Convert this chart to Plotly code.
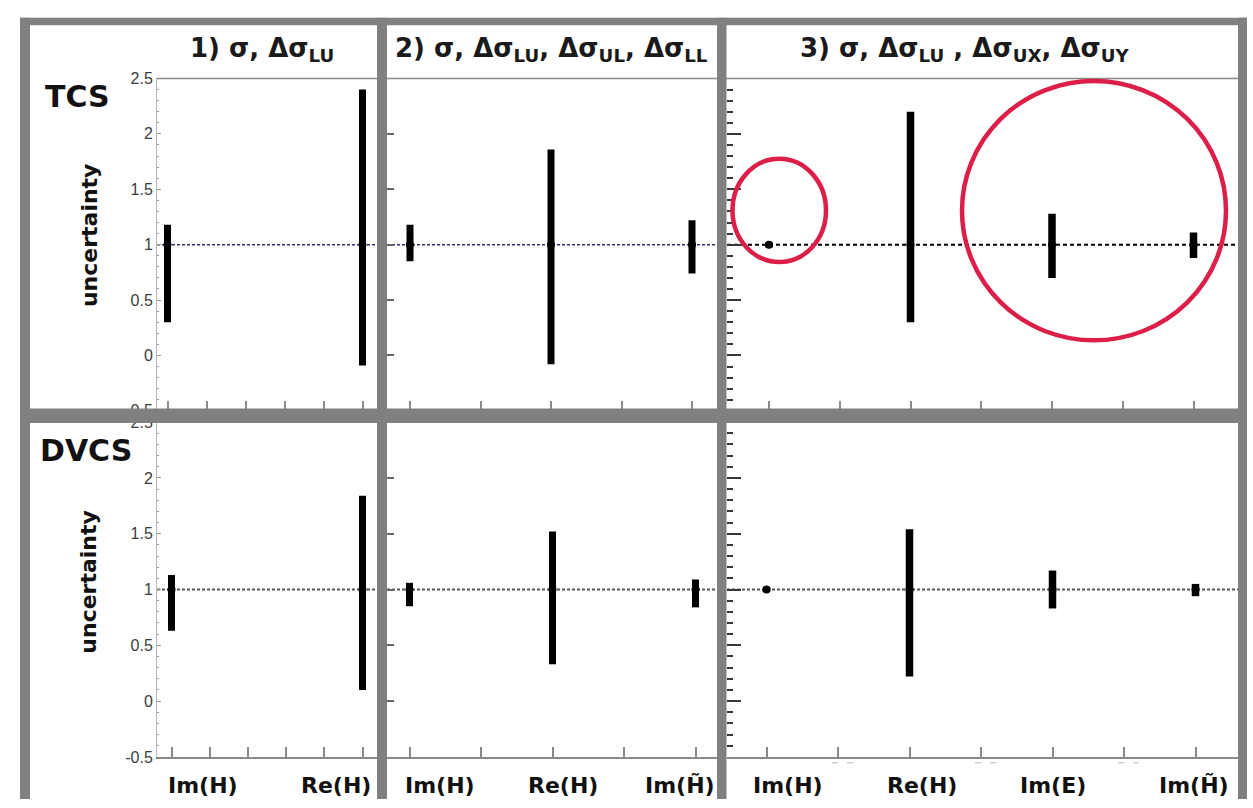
import plotly.graph_objects as go

W, H = 1253, 808

# ---------------- data ----------------
# fitted Compton form factors for each observable set
set1_labels = ["Im(H)", "Re(H)"]
set2_labels = ["Im(H)", "Re(H)", "Im(H̃)"]
set3_labels = ["Im(H)", "Re(H)", "Im(E)", "Im(H̃)"]

# TCS: lower / upper edge of the normalised uncertainty band
tcs1_low = [0.30, -0.09]
tcs1_high = [1.18, 2.40]
tcs2_low = [0.85, -0.08, 0.74]
tcs2_high = [1.18, 1.86, 1.22]
tcs3_low = [0.975, 0.30, 0.70, 0.88]
tcs3_high = [1.025, 2.20, 1.28, 1.11]

# DVCS: lower / upper edge of the normalised uncertainty band
dvcs1_low = [0.63, 0.10]
dvcs1_high = [1.13, 1.84]
dvcs2_low = [0.85, 0.33, 0.84]
dvcs2_high = [1.06, 1.52, 1.09]
dvcs3_low = [0.98, 0.22, 0.83, 0.94]
dvcs3_high = [1.02, 1.54, 1.17, 1.05]

central_value = 1.0
y_ticks = [-0.5, 0, 0.5, 1, 1.5, 2, 2.5]
y_tick_text = ["-0.5", "0", "0.5", "1", "1.5", "2", "2.5"]

panel_titles = [
    "<b>1) σ, Δσ<sub>LU</sub></b>",
    "<b>2) σ, Δσ<sub>LU</sub>, Δσ<sub>UL</sub>, Δσ<sub>LL</sub></b>",
    "<b>3) σ, Δσ<sub>LU</sub> , Δσ<sub>UX</sub>, Δσ<sub>UY</sub></b>",
]
row_names = ["TCS", "DVCS"]
y_title = "uncertainty"

# ---------------- layout geometry (pixels) ----------------
# left, right, top, bottom of each frame, pixel of first parameter, pixels per parameter, tick step
frames = [
    (157, 382, 72, 411.5, 167.5, 195.0, 0.2),
    (387, 717, 72, 411.5, 410.0, 141.0, 0.5),
    (727, 1238, 72, 411.5, 769.0, 141.5, 0.5),
    (157, 382, 423, 765, 171.5, 191.0, 0.2),
    (387, 717, 423, 765, 409.5, 143.0, 0.5),
    (727, 1238, 423, 765, 766.5, 143.0, 0.5),
]
bar_px = [7, 7, 7.5, 7, 7, 7.5]
label_nudge = [[0.165, -0.139], [0.21, 0.07, -0.11], [0.15, 0.09, 0.0, -0.01]]

panels = [
    (set1_labels, tcs1_low, tcs1_high),
    (set2_labels, tcs2_low, tcs2_high),
    (set3_labels, tcs3_low, tcs3_high),
    (set1_labels, dvcs1_low, dvcs1_high),
    (set2_labels, dvcs2_low, dvcs2_high),
    (set3_labels, dvcs3_low, dvcs3_high),
]


def px_x(p):
    return p / W


def px_y(p):
    return 1 - p / H


fig = go.Figure()
layout = dict(
    width=W, height=H, autosize=False,
    margin=dict(l=0, r=0, t=0, b=0, pad=0),
    paper_bgcolor="white", plot_bgcolor="white",
    showlegend=False,
)

shapes = []
annotations = []
tick_font = dict(family="Liberation Sans, Arial, sans-serif", size=16, color="#3c3c3c")
label_font = dict(family="DejaVu Sans, sans-serif", size=22, color="#111111")

for i, ((labels, low, high), fr) in enumerate(zip(panels, frames)):
    left, right, top, bottom, px0, ppu, step = fr
    n = i + 1
    sfx = "" if n == 1 else str(n)
    col = i % 3
    xs = list(range(len(labels)))

    fig.add_trace(go.Bar(
        x=xs, y=[h - l for l, h in zip(low, high)], base=low,
        width=bar_px[i] / ppu,
        marker=dict(color="black", line=dict(width=0)),
        xaxis=f"x{sfx}", yaxis=f"y{sfx}", hoverinfo="skip",
    ))
    fig.add_trace(go.Scatter(
        x=xs, y=[central_value] * len(xs), mode="markers",
        marker=dict(color="black", size=8),
        xaxis=f"x{sfx}", yaxis=f"y{sfx}", hoverinfo="skip",
    ))

    xa = dict(
        domain=[px_x(left), px_x(right)],
        range=[(left - px0) / ppu, (right - px0) / ppu],
        anchor=f"y{sfx}", showgrid=False, zeroline=False, showticklabels=False,
        ticks="inside", ticklen=10, tickwidth=1.5, tickcolor="#8a8a8a",
        tick0=0, dtick=step, fixedrange=True,
        showline=(i >= 3), linecolor="#8a8a8a", linewidth=1.5,
    )
    ya = dict(
        domain=[px_y(bottom), px_y(top)], range=[-0.5, 2.5],
        anchor=f"x{sfx}", showgrid=False, zeroline=False, fixedrange=True,
    )
    if col == 0:
        ya.update(
            showline=True, linecolor="#b8b8b8", linewidth=1,
            ticks="inside", ticklen=4, tickcolor="#9a9a9a", tickwidth=1,
            tickmode="array", tickvals=y_ticks, ticktext=y_tick_text,
            tickfont=tick_font,
            minor=dict(dtick=0.1, tick0=0, ticks="inside", ticklen=2,
                       tickcolor="#9a9a9a", tickwidth=1),
        )
    elif col == 1:
        ya.update(showticklabels=False, showline=False, ticks="inside",
                  ticklen=7, tickwidth=1.5, tickcolor="#666666", tick0=0, dtick=0.5)
    else:
        ya.update(showticklabels=False, showline=False, ticks="inside",
                  ticklen=14, tickwidth=2, tickcolor="#383838", tick0=0, dtick=0.5,
                  minor=dict(dtick=0.1, tick0=0, ticks="inside", ticklen=6,
                             tickwidth=2, tickcolor="#383838"))
    layout[f"xaxis{n}"] = xa
    layout[f"yaxis{n}"] = ya

    # reference line at the central value
    if i < 2:
        lc, lw, dash = "#2e2e78", 1.5, "3px,2px"
    elif i == 2:
        lc, lw, dash = "black", 2, "4px,3px"
    else:
        lc, lw, dash = "#555555", 2, "3px,2px"
    shapes.append(dict(
        type="line", xref=f"x{sfx} domain", yref=f"y{sfx}",
        x0=0, x1=1, y0=central_value, y1=central_value,
        line=dict(color=lc, width=lw, dash=dash), layer="below",
    ))

    # category labels under the bottom row
    if i >= 3:
        for k, lab in enumerate(labels):
            annotations.append(dict(
                text=f"<b>{lab}</b>", xref=f"x{sfx}", yref="paper",
                x=k + label_nudge[col][k], y=px_y(794),
                xanchor="center", yanchor="middle", showarrow=False,
                font=label_font,
            ))

# frame line along the top of the upper row
shapes.append(dict(type="line", xref="paper", yref="paper",
                   x0=px_x(157), x1=px_x(1238), y0=px_y(72), y1=px_y(72),
                   line=dict(color="#8a8a8a", width=1.5)))

# faint stray dashes below the last frame's axis
for bx in [832, 975, 1118]:
    for off in [0, 15]:
        shapes.append(dict(type="line", xref="paper", yref="paper",
                           x0=px_x(bx + off), x1=px_x(bx + off + 6),
                           y0=px_y(771), y1=px_y(771),
                           line=dict(color="#c4c4c4", width=1.2)))

# grey canvas borders and pad separators
grey = "#808080"
for (x0, x1, y0, y1) in [
    (20, 1247, 10, 17.5),
    (20, 30, 10, 808),
    (1238, 1247, 10, 808),
    (377, 387, 10, 808),
    (717, 726.5, 10, 808),
    (20, 1247, 409, 424),
]:
    shapes.append(dict(type="rect", xref="paper", yref="paper",
                       x0=px_x(x0), x1=px_x(x1), y0=px_y(y1), y1=px_y(y0),
                       fillcolor=grey, line=dict(width=0), layer="above"))

# highlight rings
ring = "#dc1f48"
for (x0, x1, y0, y1) in [(732.5, 826, 154, 259.5), (962, 1226, 74.5, 339.5)]:
    shapes.append(dict(type="circle", xref="paper", yref="paper",
                       x0=px_x(x0), x1=px_x(x1), y0=px_y(y1), y1=px_y(y0),
                       line=dict(color=ring, width=4.5), fillcolor="rgba(0,0,0,0)",
                       layer="above"))

# panel titles
title_font = dict(family="DejaVu Sans, sans-serif", size=26, color="#1a1a1a")
for t, cx in zip(panel_titles, [262, 551, 965]):
    annotations.append(dict(text=t, xref="paper", yref="paper", x=px_x(cx), y=px_y(42),
                            xanchor="center", yanchor="middle", showarrow=False,
                            font=title_font))

# row names and y-axis titles
name_font = dict(family="DejaVu Sans, sans-serif", size=30, color="#111111")
for name, (cx, cy) in zip(row_names, [(77.5, 90), (86, 452)]):
    annotations.append(dict(text=f"<b>{name}</b>", xref="paper", yref="paper",
                            x=px_x(cx), y=px_y(cy), xanchor="center", yanchor="middle",
                            showarrow=False, font=name_font))
ytitle_font = dict(family="DejaVu Sans, sans-serif", size=22, color="#111111")
for cy in [232, 586]:
    annotations.append(dict(text=f"<b>{y_title}</b>", xref="paper", yref="paper",
                            x=px_x(89), y=px_y(cy), xanchor="center", yanchor="middle",
                            textangle=-90, showarrow=False, font=ytitle_font))

layout["shapes"] = shapes
layout["annotations"] = annotations
fig.update_layout(**layout)

fig.write_html("out.html", include_plotlyjs=True, config={"displayModeBar": False})
